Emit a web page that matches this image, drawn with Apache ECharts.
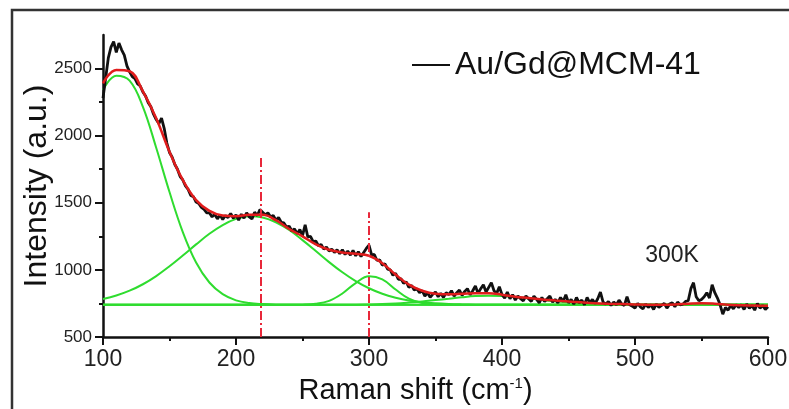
<!DOCTYPE html>
<html>
<head>
<meta charset="utf-8">
<script src="https://cdn.jsdelivr.net/npm/echarts@6.0.0/dist/echarts.min.js"></script>
<style>
  html, body { margin: 0; padding: 0; background: #fff; }
  #chart { width: 789px; height: 409px; }
</style>
</head>
<body>
<div id="chart"></div>
<script>
const FONT = '"Liberation Sans", Arial, sans-serif';

// raman shift sampling (cm-1)
const shiftStart = 100;
const rawStep = 2;
const fitStep = 10;

// measured spectrum, 100..600 every 2 cm-1
const rawIntensity = [
  2280, 2430, 2580, 2660, 2700, 2620, 2690, 2640, 2600, 2520,
  2475, 2440, 2425, 2385, 2370, 2325, 2295, 2245, 2215, 2160,
  2120, 2090, 2130, 2055, 1945, 1875, 1840, 1785, 1750, 1695,
  1670, 1625, 1600, 1555, 1545, 1505, 1495, 1465, 1450, 1425,
  1425, 1395, 1415, 1380, 1410, 1375, 1405, 1390, 1420, 1385,
  1410, 1370, 1415, 1385, 1425, 1395, 1380, 1430, 1405, 1450,
  1430, 1410, 1425, 1395, 1405, 1370, 1390, 1355, 1350, 1320,
  1325, 1290, 1305, 1270, 1300, 1255, 1335, 1245, 1250, 1210,
  1215, 1180, 1190, 1155, 1170, 1140, 1155, 1130, 1150, 1120,
  1150, 1115, 1140, 1110, 1145, 1105, 1135, 1100, 1130, 1160,
  1185, 1110, 1115, 1070, 1075, 1035, 1045, 1005, 1000, 960,
  975, 930, 935, 900, 910, 870, 885, 850, 860, 830,
  845, 805, 830, 795, 820, 835, 800, 825, 795, 830,
  815, 845, 805, 830, 850, 810, 840, 860, 815, 845,
  880, 825, 860, 890, 835, 870, 905, 845, 825, 875,
  815, 790, 835, 785, 815, 775, 805, 785, 770, 805,
  785, 765, 805, 780, 755, 795, 765, 785, 805, 760,
  780, 755, 795, 765, 815, 755, 780, 745, 795, 755,
  775, 740, 795, 755, 780, 750, 785, 835, 760, 745,
  765, 735, 760, 740, 775, 745, 735, 800, 740, 730,
  715, 750, 725, 710, 745, 720, 740, 705, 745, 720,
  735, 750, 715, 745, 755, 725, 760, 740, 745, 765,
  770, 860, 905, 800, 770, 780, 800, 830, 790, 890,
  830, 790, 740, 670, 720, 700, 735, 710, 740, 720,
  740, 705, 745, 715, 735, 700, 750, 715, 735, 705,
  725
];

// cumulative fit, 100..600 every 10 cm-1
const fitIntensity = [
  2390, 2490, 2480, 2330, 2130, 1880, 1670, 1520, 1440, 1405, 1400,
  1410, 1410, 1370, 1305, 1250, 1190, 1150, 1130, 1120, 1105,
  1050, 965, 890, 845, 822, 818, 822, 826, 826, 815,
  800, 790, 780, 772, 765, 758, 752, 748, 745, 742,
  740, 740, 742, 748, 752, 748, 740, 736, 734, 732
];

// fitted components, 100..600 every 10 cm-1
const peakA = [
  2340, 2447, 2410, 2215, 1910, 1580, 1282, 1055, 906, 819, 773,
  753, 745, 741, 740, 740, 740, 740, 740, 740, 740,
  740, 740, 740, 740, 740, 740, 740, 740, 740, 740,
  740, 740, 740, 740, 740, 740, 740, 740, 740, 740,
  740, 740, 740, 740, 740, 740, 740, 740, 740, 740
];
const peakB = [
  783, 809, 845, 893, 954, 1027, 1107, 1190, 1269, 1334, 1380,
  1400, 1391, 1355, 1297, 1222, 1141, 1058, 982, 916, 863,
  822, 793, 772, 759, 751, 746, 743, 741, 740, 740,
  740, 740, 740, 740, 740, 740, 740, 740, 740, 740,
  740, 740, 740, 740, 740, 740, 740, 740, 740, 740
];
const peakC = [
  740, 740, 740, 740, 740, 740, 740, 740, 740, 740, 740,
  740, 740, 740, 740, 741, 747, 769, 824, 902, 953,
  930, 854, 786, 753, 742, 740, 740, 740, 740, 740,
  740, 740, 740, 740, 740, 740, 740, 740, 740, 740,
  740, 740, 740, 740, 740, 740, 740, 740, 740, 740
];
const peakD = [
  740, 740, 740, 740, 740, 740, 740, 740, 740, 740, 740,
  740, 740, 740, 740, 740, 740, 740, 740, 740, 742,
  745, 750, 757, 765, 775, 785, 796, 805, 808, 805,
  798, 788, 777, 766, 758, 752, 748, 745, 742, 741,
  740, 740, 740, 740, 740, 740, 740, 740, 740, 740
];
const baselineLevel = 740;

// dash-dot guides
const guideShift = [218.5, 300];
const guideTop = [1850, 1430];

const yTicks = [500, 1000, 1500, 2000, 2500];
const yMinorTicks = [750, 1250, 1750, 2250];

const toPairs = (vals, step) => vals.map((v, i) => [shiftStart + i * step, v]);

const green = (data) => ({
  type: 'line',
  data: data,
  symbol: 'none',
  smooth: 0.4,
  silent: true,
  lineStyle: { color: '#2fdc2f', width: 2 },
  z: 2,
});

const chart = echarts.init(document.getElementById('chart'));

chart.setOption({
  animation: false,
  backgroundColor: '#fff',
  textStyle: { fontFamily: FONT },
  grid: { left: 103, right: 21, top: 35, bottom: 72, outerBoundsMode: 'none' },
  legend: {
    data: ['Au/Gd@MCM-41'],
    left: 412,
    top: 49,
    padding: 0,
    icon: 'rect',
    itemWidth: 38,
    itemHeight: 2,
    textStyle: { fontSize: 32, color: '#111', fontFamily: FONT },
  },
  xAxis: {
    type: 'value',
    min: 100,
    max: 600,
    interval: 100,
    name: '{a|Raman shift (cm}{s|-1}{a|)}',
    nameLocation: 'middle',
    nameGap: 38,
    nameTextStyle: {
      padding: [0, 40, 0, 0],
      rich: {
        a: { fontSize: 29, color: '#111', fontFamily: FONT, lineHeight: 30 },
        s: { fontSize: 15, color: '#111', fontFamily: FONT, verticalAlign: 'top', lineHeight: 15 },
      },
    },
    axisLine: { lineStyle: { color: '#111', width: 2.5 } },
    axisTick: { length: 8, lineStyle: { color: '#111', width: 2 } },
    minorTick: { show: true, splitNumber: 2, length: 4, lineStyle: { color: '#111', width: 2 } },
    axisLabel: { fontSize: 23, color: '#222', margin: 11, fontFamily: FONT },
    splitLine: { show: false },
  },
  yAxis: [
    {
      type: 'value',
      min: 500,
      max: 2750,
      name: 'Intensity (a.u.)',
      nameLocation: 'middle',
      nameGap: 50,
      nameMoveOverlap: false,
      nameTextStyle: { fontSize: 32, color: '#111', fontFamily: FONT },
      axisLine: { show: true, lineStyle: { color: '#111', width: 2.5 } },
      axisTick: { show: true, customValues: yTicks, length: 8, lineStyle: { color: '#111', width: 2 } },
      axisLabel: {
        customValues: yTicks,
        formatter: (v) => String(v),
        fontSize: 17,
        color: '#222',
        margin: 11,
        fontFamily: FONT,
      },
      splitLine: { show: false },
    },
    {
      type: 'value',
      min: 500,
      max: 2750,
      position: 'left',
      axisLine: { show: false },
      axisTick: { show: true, customValues: yMinorTicks, length: 4, lineStyle: { color: '#111', width: 2 } },
      axisLabel: { show: false },
      splitLine: { show: false },
    },
  ],
  series: [
    green([[100, baselineLevel], [600, baselineLevel]]),
    green(toPairs(peakA, fitStep)),
    green(toPairs(peakB, fitStep)),
    green(toPairs(peakC, fitStep)),
    green(toPairs(peakD, fitStep)),
    {
      name: 'Au/Gd@MCM-41',
      type: 'line',
      data: toPairs(rawIntensity, rawStep),
      symbol: 'none',
      lineStyle: { color: '#111', width: 2.8 },
      itemStyle: { color: '#111' },
      z: 3,
    },
    {
      type: 'line',
      data: toPairs(fitIntensity, fitStep),
      symbol: 'none',
      smooth: 0.4,
      silent: true,
      lineStyle: { color: '#e01c1c', width: 2.5 },
      z: 4,
      markLine: {
        silent: true,
        symbol: 'none',
        label: { show: false },
        lineStyle: { color: '#e8283a', width: 2, type: [9, 3, 2, 3] },
        data: guideShift.map((x, i) => [{ coord: [x, 500] }, { coord: [x, guideTop[i]] }]),
      },
    },
  ],
  graphic: [
    {
      type: 'rect',
      silent: true,
      shape: { x: 12, y: 10, width: 800, height: 430 },
      style: { fill: 'none', stroke: '#333', lineWidth: 2.5 },
      z: 0,
    },
    {
      type: 'text',
      silent: true,
      style: {
        text: '300K',
        x: 672,
        y: 256,
        align: 'center',
        verticalAlign: 'middle',
        fontSize: 23,
        fill: '#222',
        fontFamily: FONT,
      },
    },
  ],
});
</script>
</body>
</html>
